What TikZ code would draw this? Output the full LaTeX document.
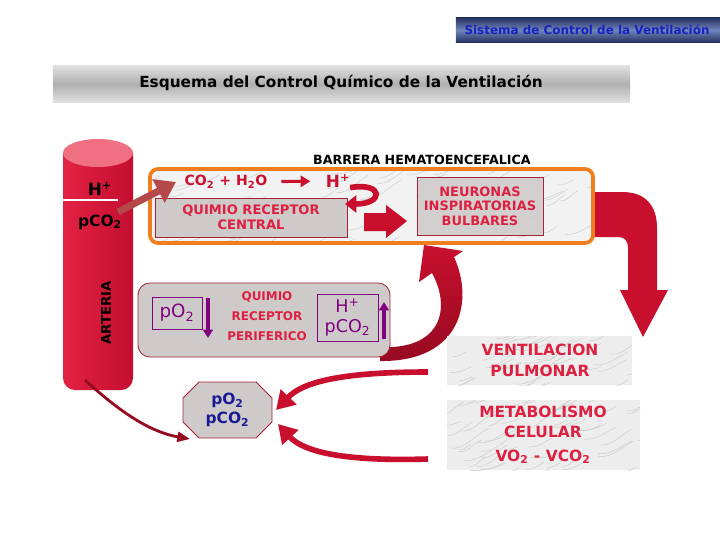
\documentclass[tikz,border=0pt]{standalone}
\usepackage{fontspec}
\setmainfont{DejaVu Sans}
\usetikzlibrary{arrows.meta}
\definecolor{txtred}{RGB}{222,32,64}
\definecolor{arrred}{RGB}{200,16,46}
\definecolor{darkarr}{RGB}{150,10,32}
\definecolor{orangeb}{RGB}{240,125,30}
\definecolor{boxgray}{RGB}{206,202,202}
\definecolor{boxborder}{RGB}{165,35,55}
\definecolor{purp}{RGB}{128,0,128}
\definecolor{navyt}{RGB}{26,26,150}
\definecolor{artL}{RGB}{226,34,66}
\definecolor{artD}{RGB}{196,14,48}
\definecolor{artpink}{RGB}{240,112,130}
\definecolor{brownarr}{RGB}{180,72,74}
\definecolor{hdrblue}{RGB}{24,34,190}
\definecolor{hdrdark}{RGB}{38,52,98}
\definecolor{hdrmid}{RGB}{112,132,188}
\newcommand\fsz[2]{\fontsize{#1}{#2}\selectfont}
\newcommand\marbleveins[5]{%
  \foreach \k in {1,...,#5}{%
    \pgfmathsetmacro\mx{#1+rnd*(#3-#1)}%
    \pgfmathsetmacro\my{#2+rnd*(#4-#2)}%
    \pgfmathsetmacro\ml{8+rnd*30}%
    \pgfmathsetmacro\mb{-0.2-rnd*0.4}%
    \draw[marblevein] (\mx,\my) .. controls +(0.35*\ml,0.05*\ml) and +(-0.3*\ml,0.15*\ml) .. +(\ml,\mb*\ml);
  }}
\begin{document}
\begin{tikzpicture}[x=0.025cm,y=-0.025cm,
  every node/.style={inner sep=0pt,outer sep=0pt},
  marblevein/.style={draw=gray!40,line width=0.35pt},
  graybox/.style={draw=boxborder,line width=0.6pt,fill=boxgray},
  redtxt/.style={text=txtred,align=center},
  redarrow/.style={draw=arrred,line width=4pt}]
\pgfmathsetseed{7}
\useasboundingbox (0,0) rectangle (720,540);
\fill[white] (0,0) rectangle (720,540);

% header
\node[top color=hdrdark,bottom color=hdrdark,middle color=hdrmid,minimum width=6.6cm,minimum height=0.6cm] (hdr) at (588,30) {};
\node[font=\bfseries\fsz{8.5}{9},text=hdrblue] (hdrtxt) at (587,30) {Sistema de Control de la Ventilación};

% title
\node[top color=gray!25,bottom color=gray!25,middle color=gray!62,minimum width=14.425cm,minimum height=0.9cm] (ttl) at (341.5,84) {};
\node[font=\bfseries\fsz{10.9}{12}] (ttltxt) at (341,83) {Esquema del Control Químico de la Ventilación};

% artery
\shade[left color=artL,right color=artD] (63,153) [rounded corners=0.3cm] -- (63,390) -- (133,390) [sharp corners] -- (133,153) -- cycle;
\fill[artpink] (98,153) ellipse [x radius=0.875cm,y radius=0.35cm];
\draw[white,line width=0.9pt] (63,200) -- (118,200);
\node[font=\bfseries\fsz{12}{14}] (arth) at (100,189) {H\textsuperscript{+}};
\node[font=\bfseries\fsz{11}{13}] (artp) at (100,222) {pCO\textsubscript{2}};
\node[font=\bfseries\fsz{9.5}{10},rotate=90] (arttxt) at (106,313) {ARTERIA};
\coordinate (artH) at (118,212);
\coordinate (artB) at (85,380);

% big bent arrow to ventilacion
\fill[arrred] (588,192) -- (622,192) .. controls (645,192) and (657,205) .. (657,228) -- (657,290) -- (668,290) -- (643,337) -- (620,290) -- (628,290) -- (628,248) .. controls (628,241) and (625,237) .. (618,237) -- (588,237) -- cycle;

% central box (barrera)
\begin{scope}
  \clip[rounded corners=0.2cm] (150,169) rectangle (593,243);
  \fill[gray!10] (150,169) rectangle (593,243);
  \marbleveins{140}{169}{593}{250}{90}
\end{scope}
\node[draw=orangeb,line width=2.6pt,rounded corners=0.2cm,minimum width=11.075cm,minimum height=1.85cm] (cbox) at (371.5,206) {};
\node[font=\bfseries\fsz{9}{10}] (barrera) at (422,160) {BARRERA HEMATOENCEFALICA};

\node[graybox,redtxt,minimum width=4.8cm,minimum height=0.975cm,font=\bfseries\fsz{9.3}{10.8}] (qrc) at (251,217.5) {QUIMIO RECEPTOR\\CENTRAL};
\node[graybox,fill opacity=0.85,text opacity=1,redtxt,minimum width=3.15cm,minimum height=1.45cm,font=\bfseries\fsz{9.2}{10.3}] (neur) at (480,206) {NEURONAS\\INSPIRATORIAS\\BULBARES};

\node[text=arrred,font=\bfseries\fsz{10}{12}] (co2) at (226,182) {CO\textsubscript{2} + H\textsubscript{2}O};
\node[text=arrred,font=\bfseries\fsz{12}{14}] (hplus) at (338,181) {H\textsuperscript{+}};
\draw[arrred,line width=2.2pt,-{Triangle[length=7pt,width=8pt]},shorten <=10pt,shorten >=11pt] (co2) -- (hplus);
\coordinate (hookend) at (345,204);
\draw[arrred,line width=4pt,-{Triangle[length=8pt,width=12pt]}] (hplus.south east) .. controls (384,182) and (384,204) .. (hookend);
% block arrow qrc -> neuronas
\fill[arrred] (364,213) -- (386,213) -- (386,205) -- (407,221) -- (386,238) -- (386,231) -- (364,231) -- cycle;

% artery -> co2
\coordinate (co2in) at (176,182);
\draw[brownarr,line width=5pt,-{Triangle[length=14pt,width=18pt]}] (artH) -- (co2in);

% crescent arrow periferico -> neuronas
\shade[top color=arrred,bottom color=darkarr] (380,347) .. controls (440,350) and (452,310) .. (432,273) -- (419,282) -- (424,245) -- (463,251) -- (454,257) .. controls (474,300) and (462,362) .. (380,361) -- cycle;

% peripheral
\node[graybox,rounded corners=0.3cm,minimum width=6.3cm,minimum height=1.85cm] (perbox) at (264,320) {};
\node[redtxt,font=\bfseries\fsz{8.5}{14.2}] (pertxt) at (267,316) {QUIMIO\\RECEPTOR\\PERIFERICO};
\node[draw=purp,line width=0.6pt,text=purp,minimum width=1.25cm,minimum height=0.8cm,font=\fsz{13}{14}] (po2) at (177,313) {pO\textsubscript{2}};
\node[draw=purp,line width=0.6pt,text=purp,align=center,minimum width=1.525cm,minimum height=1.175cm,font=\fsz{12.5}{14}] (hpco2) at (347.5,317.5) {H\textsuperscript{+}\\pCO\textsubscript{2}};
\coordinate (dnA) at (208,298); \coordinate (dnB) at (208,338);
\coordinate (upA) at (384,339); \coordinate (upB) at (384,302);
\draw[purp,line width=2.2pt,-{Triangle[length=6pt,width=7pt]}] (dnA) -- (dnB);
\draw[purp,line width=2.2pt,-{Triangle[length=6pt,width=7pt]}] (upA) -- (upB);

% octagon
\filldraw[fill=boxgray,draw=boxborder,line width=0.6pt] (199,382) -- (256,382) -- (272,398) -- (272,422) -- (256,438) -- (199,438) -- (183,422) -- (183,398) -- cycle;
\node[text=navyt,align=center,font=\bfseries\fsz{11}{14}] (oct) at (227.5,410) {pO\textsubscript{2}\\pCO\textsubscript{2}};
\coordinate (octR1) at (276,410);
\coordinate (octR2) at (278,424);
\coordinate (octL) at (190,439);
\coordinate (ventL) at (428,372);
\coordinate (metL) at (428,459);
\draw[redarrow,-{Triangle[length=13pt,width=15pt]}] (ventL) .. controls (330,372) and (300,385) .. (octR1);
\draw[redarrow,-{Triangle[length=13pt,width=15pt]}] (metL) .. controls (330,462) and (300,448) .. (octR2);
\draw[darkarr,line width=2pt,-{Triangle[length=9pt,width=7pt]}] (artB) .. controls (120,412) and (150,432) .. (octL);

% ventilacion
\begin{scope}
  \clip (447,336) rectangle (632,385);
  \fill[gray!14] (447,336) rectangle (632,385);
  \marbleveins{430}{336}{632}{395}{45}
\end{scope}
\node[redtxt,font=\bfseries\fsz{11}{15}] (vent) at (540,360) {VENTILACION\\PULMONAR};

% metabolismo
\begin{scope}
  \clip (447,400) rectangle (640,470);
  \fill[gray!14] (447,400) rectangle (640,470);
  \marbleveins{430}{400}{640}{480}{60}
\end{scope}
\node[redtxt,font=\bfseries\fsz{11}{14}] (metab) at (543,435) {METABOLISMO\\CELULAR\\[3pt]VO\textsubscript{2} - VCO\textsubscript{2}};
\end{tikzpicture}
\end{document}
